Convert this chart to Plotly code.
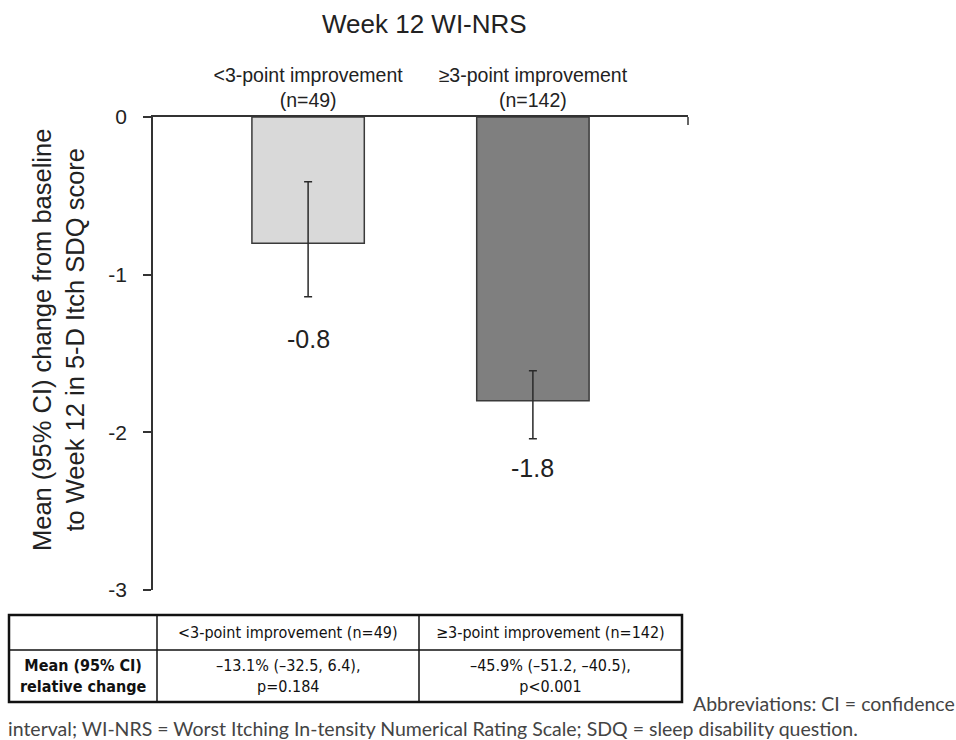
import plotly.graph_objects as go

# ---- data ----
categories = ["<3-point improvement<br>(n=49)", "≥3-point improvement<br>(n=142)"]
means = [-0.8, -1.8]
ci_upper = [-0.41, -1.61]
ci_lower = [-1.14, -2.04]
value_labels = ["-0.8", "-1.8"]
y_ticks = [0, -1, -2, -3]
y_ticktext = ["0", "-1", "-2", "-3"]

table_header = ["", "<3-point improvement (n=49)", "≥3-point improvement (n=142)"]
table_row = ["<b>Mean (95% CI)<br>relative change</b>",
             "–13.1% (–32.5, 6.4),<br>p=0.184",
             "–45.9% (–51.2, –40.5),<br>p<0.001"]

W, H = 956, 740
def px(x):
    return x / W
def py(y):
    return 1 - y / H

FONT = "Liberation Sans, Arial, sans-serif"
NARROW = "DejaVu Sans Condensed, Liberation Sans Narrow, sans-serif"

err_plus = [u - m for u, m in zip(ci_upper, means)]
err_minus = [m - l for m, l in zip(means, ci_lower)]

fig = go.Figure()
fig.add_trace(go.Bar(
    x=categories, y=means, width=0.5,
    marker=dict(color=["#d9d9d9", "#7f7f7f"], line=dict(color="#3a3a3a", width=1.5)),
    error_y=dict(type="data", array=err_plus, arrayminus=err_minus, symmetric=False,
                 color="#2a2a2a", thickness=1.5, width=4),
    showlegend=False, hoverinfo="skip",
))

annotations = [
    dict(text="Week 12 WI-NRS", x=px(424), y=py(24), xref="paper", yref="paper",
         xanchor="center", yanchor="middle",
         showarrow=False, font=dict(family=FONT, size=26, color="#222")),
    dict(text="Mean (95% CI) change from baseline<br>to Week 12 in 5-D Itch SDQ score",
         x=px(58), y=py(340), xref="paper", yref="paper", textangle=-90,
         xanchor="center", yanchor="middle",
         showarrow=False, font=dict(family=FONT, size=25.5, color="#222")),
    dict(text="Abbreviations: CI = confidence", x=px(691), y=py(703), xref="paper", yref="paper",
         xanchor="left", yanchor="middle", showarrow=False,
         font=dict(family="Lato, sans-serif", size=19.5, color="#444")),
    dict(text="interval; WI-NRS = Worst Itching In-tensity Numerical Rating Scale; SDQ = sleep disability question.",
         x=px(6), y=py(728), xref="paper", yref="paper",
         xanchor="left", yanchor="middle", showarrow=False,
         font=dict(family="Lato, sans-serif", size=19.5, color="#444")),
]
label_shift = [-26, -13]
for c, lo, t, s in zip(categories, ci_lower, value_labels, label_shift):
    annotations.append(dict(text=t, x=c, y=lo, xref="x", yref="y", xanchor="center", yanchor="top",
                            yshift=s, showarrow=False, font=dict(family=FONT, size=25, color="#222")))

# ---- table (lines + text) ----
col_edges = [9, 157, 419, 682]
row_edges = [615, 650, 702]
shapes = [
    dict(type="line", xref="x domain", yref="y", x0=1, x1=1, y0=0, y1=-0.05,
         line=dict(color="#333", width=1.5)),
]
for xe in col_edges[1:-1]:
    shapes.append(dict(type="line", xref="paper", yref="paper", x0=px(xe), x1=px(xe),
                       y0=py(row_edges[0]), y1=py(row_edges[-1]), line=dict(color="#111", width=1.5)))
for ye in row_edges[1:-1]:
    shapes.append(dict(type="line", xref="paper", yref="paper", x0=px(col_edges[0]), x1=px(col_edges[-1]),
                       y0=py(ye), y1=py(ye), line=dict(color="#111", width=1.5)))
shapes.append(dict(type="rect", xref="paper", yref="paper", x0=px(col_edges[0]), x1=px(col_edges[-1]),
                   y0=py(row_edges[-1]), y1=py(row_edges[0]), line=dict(color="#111", width=2.5)))

for r, row in enumerate([table_header, table_row]):
    yc = (row_edges[r] + row_edges[r + 1]) / 2
    for c, txt in enumerate(row):
        if not txt:
            continue
        xc = (col_edges[c] + col_edges[c + 1]) / 2
        annotations.append(dict(text=txt, x=px(xc), y=py(yc), xref="paper", yref="paper",
                                xanchor="center", yanchor="middle", align="center", showarrow=False,
                                font=dict(family=NARROW, size=16, color="#111")))

fig.update_layout(
    width=W, height=H, margin=dict(l=0, r=0, t=0, b=0, autoexpand=False),
    paper_bgcolor="white", plot_bgcolor="white",
    annotations=annotations, shapes=shapes, bargap=0.5,
    xaxis=dict(domain=[px(153), px(688)], range=[-0.69, 1.69], side="top",
               showline=True, linecolor="#333", linewidth=1.5, ticks="", automargin=False,
               tickfont=dict(family=FONT, size=19.5, color="#222"), showgrid=False, zeroline=False),
    yaxis=dict(domain=[py(590), py(117)], range=[-3, 0], tickvals=y_ticks, ticktext=y_ticktext,
               showline=True, linecolor="#333", linewidth=1.5, ticks="outside", ticklen=8,
               tickcolor="#333", tickwidth=1.5, showgrid=False, zeroline=False, automargin=False,
               ticklabelstandoff=12,
               tickfont=dict(family=FONT, size=21, color="#222")),
)

fig.write_html("out.html")
